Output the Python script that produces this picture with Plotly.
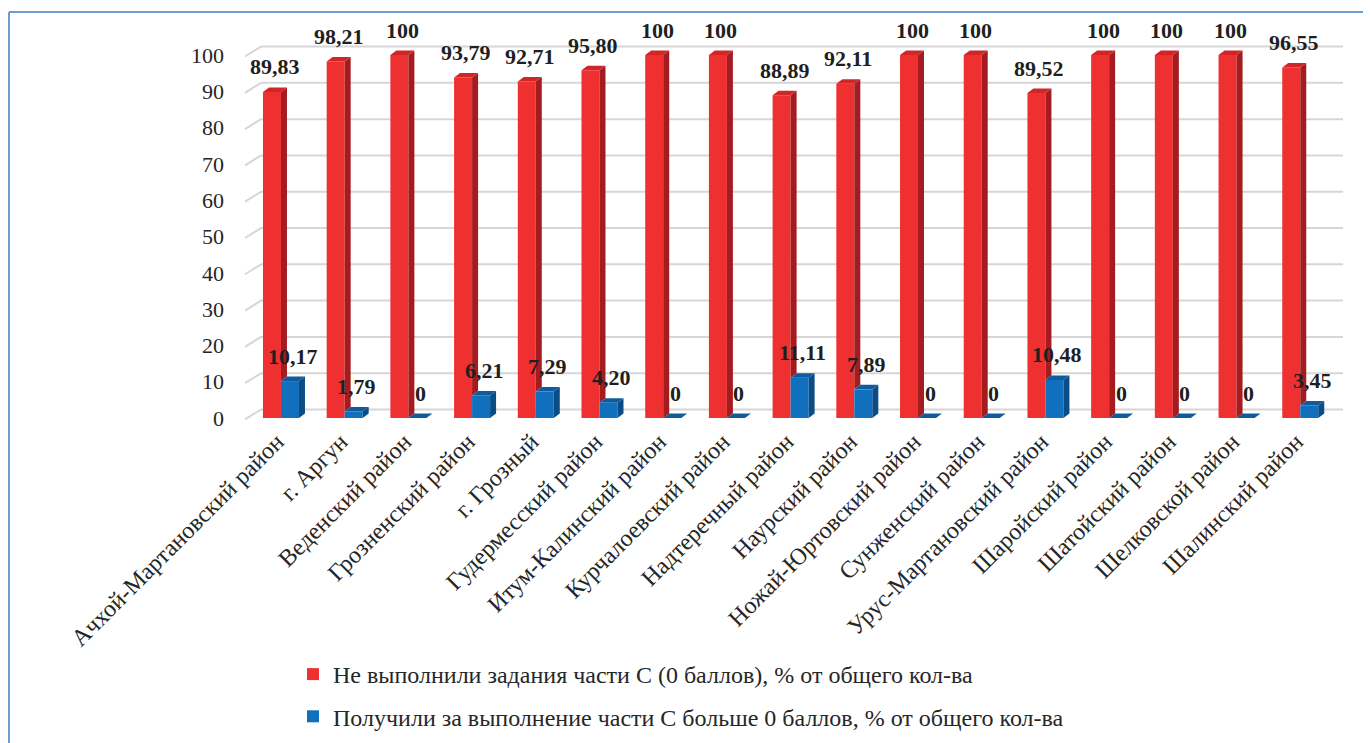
import plotly.graph_objects as go

categories = ["Ачхой-Мартановский район", "г. Аргун", "Веденский район", "Грозненский район",
              "г. Грозный", "Гудермесский район", "Итум-Калинский район", "Курчалоевский район",
              "Надтеречный район", "Наурский район", "Ножай-Юртовский район", "Сунженский район",
              "Урус-Мартановский район", "Шаройский район", "Шатойский район", "Шелковской район",
              "Шалинский район"]
not_done = [89.83, 98.21, 100, 93.79, 92.71, 95.80, 100, 100, 88.89, 92.11, 100, 100, 89.52,
            100, 100, 100, 96.55]
got_points = [10.17, 1.79, 0, 6.21, 7.29, 4.20, 0, 0, 11.11, 7.89, 0, 0, 10.48, 0, 0, 0, 3.45]
name_red = "Не выполнили задания части С (0 баллов), % от общего кол-ва"
name_blue = "Получили за выполнение части С больше 0 баллов, % от общего кол-ва"
y_ticks = [0, 10, 20, 30, 40, 50, 60, 70, 80, 90, 100]

FONT = "Liberation Serif"
RED, RED_SIDE, RED_TOP = "#EE3130", "#A51C20", "#D02628"
BLUE, BLUE_SIDE, BLUE_TOP = "#1170BE", "#0B4C85", "#0E5C9E"

# page has an 8px body margin -> figure is drawn 8px to the right / down
OFF = 8
W, H = 1371 - OFF, 743 - OFF
L, R, T, B = 245 - OFF, 43, 30 - OFF, 321
YMIN, YMAX = -1.1, 106.9
PW = W - L - R
PH = H - T - B
px_x = PW / 17.0
px_y = PH / (YMAX - YMIN)

bw = 18 / px_x
red_off = -0.218
blue_off = red_off + bw
dx = 6 / px_x
dv = 4.5 / px_y


def fmt(v):
    return str(int(v)) if float(v).is_integer() else f"{v:.2f}".replace(".", ",")


def px_to_paper_x(px):
    return (px - OFF - L) / PW


def px_to_paper_y(py):
    return (H - B - (py - OFF)) / PH


xs = list(range(len(categories)))
fig = go.Figure()
fig.add_trace(go.Bar(x=xs, y=not_done, name=name_red, marker_color=RED, marker_line_width=0,
                     offset=red_off, width=bw, legendgroup="a"))
fig.add_trace(go.Bar(x=xs, y=got_points, name=name_blue, marker_color=BLUE, marker_line_width=0,
                     offset=blue_off, width=bw, legendgroup="b"))

shapes = []
# 3D gridlines (back wall + slanted floor stubs)
gd = 8.5 / px_y
stub_px = 16
for v in y_ticks:
    shapes.append(dict(type="line", xref="paper", yref="y", x0=stub_px / PW, x1=px_to_paper_x(1343),
                       y0=v + gd, y1=v + gd, line=dict(color="#D6D6D6", width=2), layer="below"))
    shapes.append(dict(type="line", xref="paper", yref="y", x0=0, x1=stub_px / PW,
                       y0=v - 0.4, y1=v + gd, line=dict(color="#D6D6D6", width=2), layer="below"))


def poly(pts):
    return "M " + " L ".join(f"{x},{y}" for x, y in pts) + " Z"


for i, (rv, bv) in enumerate(zip(not_done, got_points)):
    x0 = i + red_off
    x1 = x0 + bw
    base = max(bv, 0)
    shapes.append(dict(type="path", xref="x", yref="y", layer="above", line_width=0, fillcolor=RED_SIDE,
                       path=poly([(x1, base), (x1, rv), (x1 + dx, rv + dv), (x1 + dx, base + dv)])))
    shapes.append(dict(type="path", xref="x", yref="y", layer="above", line_width=0, fillcolor=RED_TOP,
                       path=poly([(x0, rv), (x1, rv), (x1 + dx, rv + dv), (x0 + dx, rv + dv)])))
    bx0 = i + blue_off
    bx1 = bx0 + bw
    shapes.append(dict(type="path", xref="x", yref="y", layer="above", line_width=0, fillcolor=BLUE_SIDE,
                       path=poly([(bx1, 0), (bx1, bv), (bx1 + dx, bv + dv), (bx1 + dx, dv)])))
    shapes.append(dict(type="path", xref="x", yref="y", layer="above", line_width=0, fillcolor=BLUE_TOP,
                       path=poly([(bx0, bv), (bx1, bv), (bx1 + dx, bv + dv), (bx0 + dx, bv + dv)])))

# outer frame (top and left lines)
fx = px_to_paper_x(9)
fy = px_to_paper_y(12)
shapes.append(dict(type="line", xref="paper", yref="paper", x0=fx, x1=px_to_paper_x(1380), y0=fy, y1=fy,
                   line=dict(color="#6E9CD0", width=2)))
shapes.append(dict(type="line", xref="paper", yref="paper", x0=fx, x1=fx, y0=fy, y1=px_to_paper_y(760),
                   line=dict(color="#6E9CD0", width=2)))

annotations = []
for i, (rv, bv) in enumerate(zip(not_done, got_points)):
    annotations.append(dict(x=i + red_off + bw / 2 + dx / 2, y=rv, xref="x", yref="y",
                            text=f"<b>{fmt(rv)}</b>", showarrow=False, yshift=25,
                            font=dict(family=FONT, size=22, color="#1F1F1F")))
    annotations.append(dict(x=i + blue_off + bw / 2 + dx / 2, y=bv, xref="x", yref="y",
                            text=f"<b>{fmt(bv)}</b>", showarrow=False, yshift=25,
                            font=dict(family=FONT, size=22, color="#1F1F1F")))

fig.update_layout(
    template="none",
    width=W, height=H,
    margin=dict(l=L, r=R, t=T, b=B, autoexpand=False),
    paper_bgcolor="white", plot_bgcolor="white",
    barmode="overlay",
    font=dict(family=FONT, size=20, color="#262626"),
    shapes=shapes, annotations=annotations,
    showlegend=True,
    legend=dict(orientation="v", x=px_to_paper_x(293), y=px_to_paper_y(652), xanchor="left",
                yanchor="top", font=dict(family=FONT, size=24, color="#262626"), tracegroupgap=8,
                bgcolor="rgba(0,0,0,0)"),
)
fig.update_xaxes(range=[-0.5, 16.5], tickmode="array", tickvals=xs, ticktext=categories,
                 tickangle=-45, showgrid=False, zeroline=False, showline=False, ticks="",
                 automargin=False, tickfont=dict(family=FONT, size=24, color="#262626"))
fig.update_yaxes(range=[YMIN, YMAX], tickmode="array", tickvals=y_ticks, showgrid=False,
                 zeroline=False, showline=False, ticks="", ticklabelstandoff=20, automargin=False,
                 tickfont=dict(family=FONT, size=22, color="#262626"))

fig.write_html("out.html")
